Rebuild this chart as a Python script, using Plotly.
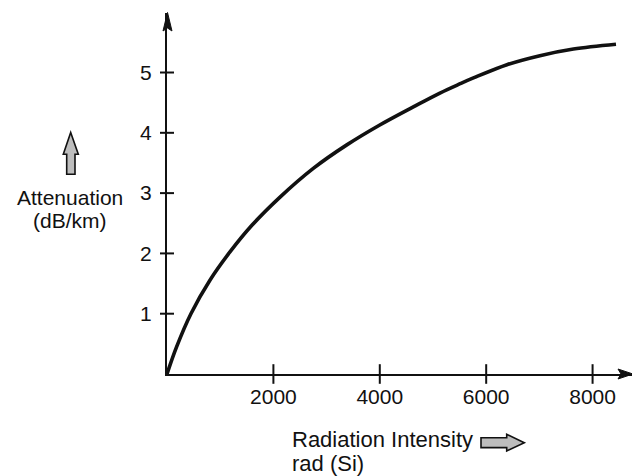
import plotly.graph_objects as go

# ---- data ----
radiation_rad = [0, 180, 450, 810, 1180, 1600, 2120, 2750, 3380, 4000, 4630, 5130,
                 5500, 5760, 6390, 7010, 7640, 8440]
attenuation_db_km = [0, 0.45, 1.0, 1.56, 2.02, 2.47, 2.93, 3.41, 3.80, 4.13, 4.43, 4.66,
                     4.81, 4.91, 5.13, 5.28, 5.39, 5.47]
x_ticks = [2000, 4000, 6000, 8000]
x_tick_labels = ["2000", "4000", "6000", "8000"]
y_ticks = [1, 2, 3, 4, 5]
y_tick_labels = ["1", "2", "3", "4", "5"]

# ---- layout geometry (pixels) ----
W, H = 632, 476
L, R, T, B = 167, 0, 13, 102
PW, PH = W - L - R, H - T - B
X_MAX = 8741
Y_MAX = 5.987
FONT = "Liberation Sans, Arial, sans-serif"


def px(p):
    return (p - L) / PW


def py(p):
    return (H - B - p) / PH


def path(points):
    return "M " + " L ".join(f"{px(a):.5f},{py(b):.5f}" for a, b in points) + " Z"


fig = go.Figure()

fig.add_trace(go.Scatter(
    x=radiation_rad, y=attenuation_db_km, mode="lines",
    line=dict(color="#111111", width=3.6, shape="spline", smoothing=1.0),
    cliponaxis=False, showlegend=False, hoverinfo="skip"))

# crossing tick marks
fig.add_trace(go.Scatter(
    x=x_ticks, y=[0] * len(x_ticks), mode="markers",
    marker=dict(symbol="line-ns", size=14, line=dict(color="#111111", width=2)),
    cliponaxis=False, showlegend=False, hoverinfo="skip"))
fig.add_trace(go.Scatter(
    x=[0] * len(y_ticks), y=y_ticks, mode="markers",
    marker=dict(symbol="line-ew", size=10, line=dict(color="#111111", width=2)),
    cliponaxis=False, showlegend=False, hoverinfo="skip"))

shapes = [
    # y-axis arrowhead
    dict(type="path", xref="paper", yref="paper",
         path=path([(167.5, 12.5), (172, 31), (167.5, 28), (163, 31)]),
         fillcolor="#111111", line=dict(color="#111111", width=1)),
    # x-axis arrowhead
    dict(type="path", xref="paper", yref="paper",
         path=path([(633, 374), (618, 369), (621, 374), (618, 379)]),
         fillcolor="#111111", line=dict(color="#111111", width=1)),
    # hollow up arrow next to the y title
    dict(type="path", xref="paper", yref="paper",
         path=path([(70.7, 132.5), (78.3, 154.3), (75, 154.3), (75, 174.3),
                    (66.7, 174.3), (66.7, 154.3), (63.3, 154.3)]),
         fillcolor="#bdbdbd", line=dict(color="#111111", width=1.6)),
    # hollow right arrow after the x title
    dict(type="path", xref="paper", yref="paper",
         path=path([(524.3, 442.7), (506.7, 434.3), (506.7, 437.8), (481, 437.8),
                    (481, 447.6), (506.7, 447.6), (506.7, 451)]),
         fillcolor="#bdbdbd", line=dict(color="#111111", width=1.6)),
]

annotations = [
    dict(text="Attenuation", x=px(69.5), y=py(197), xref="paper", yref="paper",
         xanchor="center", yanchor="middle", showarrow=False,
         font=dict(family=FONT, size=21, color="#111111")),
    dict(text="(dB/km)", x=px(70), y=py(220), xref="paper", yref="paper",
         xanchor="center", yanchor="middle", showarrow=False,
         font=dict(family=FONT, size=21, color="#111111")),
    dict(text="Radiation Intensity", x=px(290), y=py(439), xref="paper", yref="paper",
         xanchor="left", yanchor="middle", showarrow=False,
         font=dict(family=FONT, size=22, color="#111111")),
    dict(text="rad (Si)", x=px(290), y=py(463), xref="paper", yref="paper",
         xanchor="left", yanchor="middle", showarrow=False,
         font=dict(family=FONT, size=22, color="#111111")),
]

fig.update_layout(
    width=W, height=H,
    margin=dict(l=L, r=R, t=T, b=B, pad=0),
    paper_bgcolor="white", plot_bgcolor="white",
    shapes=shapes, annotations=annotations,
    showlegend=False,
    xaxis=dict(range=[0, X_MAX], tickvals=x_ticks, ticktext=x_tick_labels,
               showgrid=False, zeroline=False, showline=True, linewidth=2,
               linecolor="#111111", ticks="", ticklabelstandoff=3,
               tickfont=dict(family=FONT, size=21, color="#111111")),
    yaxis=dict(range=[0, Y_MAX], tickvals=y_ticks, ticktext=y_tick_labels,
               showgrid=False, zeroline=False, showline=True, linewidth=2,
               linecolor="#111111", ticks="", ticklabelstandoff=9,
               tickfont=dict(family=FONT, size=21, color="#111111")),
)

fig.write_html(
    "out.html",
    config={"displayModeBar": False, "staticPlot": True},
    post_script="document.body.style.margin='0';document.body.style.padding='0';",
)
